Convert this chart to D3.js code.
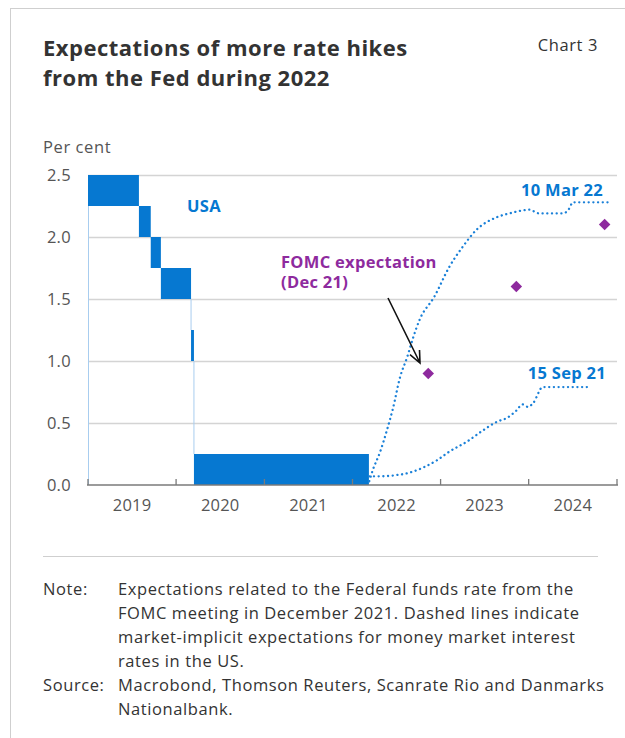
<!DOCTYPE html>
<html>
<head>
<meta charset="utf-8">
<script src="https://cdn.jsdelivr.net/npm/d3@7/dist/d3.min.js"></script>
<style>
  html, body { margin: 0; padding: 0; background: #fff; }
  svg { display: block; font-family: "Open Sans", "Noto Sans", sans-serif; }
</style>
</head>
<body>
<svg id="chart" width="625" height="738"></svg>
<script>
// Federal funds target range (step data): start date of each range
const rateStarts = ["2019-01-01", "2019-07-31", "2019-09-18", "2019-10-30", "2020-03-03", "2020-03-15"];
const rateLower  = [2.25, 2.00, 1.75, 1.50, 1.00, 0.00];
const rateUpper  = [2.50, 2.25, 2.00, 1.75, 1.25, 0.25];
const rateEnd = "2022-03-10";

// Market-implied expectations, 10 Mar 22 (decimal years, per cent)
const mar22Years  = [2022.19, 2022.23, 2022.31, 2022.39, 2022.46, 2022.54, 2022.62, 2022.68, 2022.76,
                     2022.93, 2023.10, 2023.25, 2023.41, 2023.64, 2023.78, 2024.01, 2024.12, 2024.39,
                     2024.46, 2024.50, 2024.94];
const mar22Values = [0.03, 0.12, 0.26, 0.44, 0.62, 0.87, 1.03, 1.17, 1.33,
                     1.52, 1.76, 1.92, 2.06, 2.16, 2.19, 2.22, 2.19, 2.19,
                     2.23, 2.28, 2.28];

// Market-implied expectations, 15 Sep 21
const sep21Years  = [2022.19, 2022.31, 2022.50, 2022.65, 2022.80, 2022.96, 2023.10, 2023.30, 2023.48,
                     2023.64, 2023.75, 2023.86, 2023.93, 2023.99, 2024.05, 2024.16, 2024.69];
const sep21Values = [0.07, 0.07, 0.08, 0.10, 0.14, 0.20, 0.27, 0.35, 0.44,
                     0.51, 0.54, 0.60, 0.65, 0.63, 0.66, 0.79, 0.79];

// FOMC median projections (Dec 21), year-end
const fomcYears  = [2022.86, 2023.86, 2024.86];
const fomcValues = [0.9, 1.6, 2.1];

const yTicks = [0, 0.5, 1.0, 1.5, 2.0, 2.5];
const xYears = [2019, 2020, 2021, 2022, 2023, 2024];

const noteLines = [
  "Expectations related to the Federal funds rate from the",
  "FOMC meeting in December 2021. Dashed lines indicate",
  "market-implicit expectations for money market interest",
  "rates in the US."
];
const sourceLines = [
  "Macrobond, Thomson Reuters, Scanrate Rio and Danmarks",
  "Nationalbank."
];

const BLUE = "#0678d1";
const DOT_BLUE = "#1a80d8";
const PURPLE = "#8e2a9e";
const GRID = "#d4d4d4";
const TEXT = "#333333";
const LABEL = "#555555";
const FS = 16.5;      // body text size
const LS = 0.6;       // body letter spacing

const parse = d3.utcParse("%Y-%m-%d");
function yearToDate(y) {
  const yr = Math.floor(y);
  const start = Date.UTC(yr, 0, 1), end = Date.UTC(yr + 1, 0, 1);
  return new Date(start + (y - yr) * (end - start));
}

const svg = d3.select("#chart");

// card frame
svg.append("rect")
  .attr("x", 10.5).attr("y", 8.5)
  .attr("width", 700).attr("height", 800)
  .attr("fill", "none").attr("stroke", "#cfcfcf").attr("stroke-width", 1);

// title block
const title = svg.append("text")
  .attr("x", 43).attr("y", 56)
  .attr("font-size", 22).attr("font-weight", 700)
  .attr("letter-spacing", 0.5).attr("fill", TEXT);
title.append("tspan").attr("x", 43).text("Expectations of more rate hikes");
title.append("tspan").attr("x", 43).attr("dy", 30).text("from the Fed during 2022");

svg.append("text")
  .attr("x", 598).attr("y", 51).attr("text-anchor", "end")
  .attr("font-size", FS).attr("letter-spacing", LS).attr("fill", TEXT).text("Chart 3");

svg.append("text")
  .attr("x", 43).attr("y", 153)
  .attr("font-size", FS).attr("letter-spacing", LS).attr("fill", LABEL).text("Per cent");

// scales
const x = d3.scaleUtc()
  .domain([parse("2019-01-01"), parse("2025-01-01")])
  .range([88, 617]);
const y = d3.scaleLinear().domain([0, 2.5]).range([485, 175]);

// gridlines
svg.append("g").selectAll("line")
  .data(yTicks.filter(t => t > 0))
  .join("line")
  .attr("x1", 88).attr("x2", 617)
  .attr("y1", d => Math.round(y(d)) + 0.5).attr("y2", d => Math.round(y(d)) + 0.5)
  .attr("stroke", GRID).attr("stroke-width", 1.3);

// y tick labels
svg.append("g").selectAll("text")
  .data(yTicks)
  .join("text")
  .attr("x", 71).attr("y", d => y(d))
  .attr("dy", "0.36em").attr("text-anchor", "end")
  .attr("font-size", FS).attr("letter-spacing", 0.3).attr("fill", LABEL)
  .text(d => d.toFixed(1));

// policy rate target range
const segs = rateStarts.map((s, i) => ({
  start: parse(s),
  end: parse(i < rateStarts.length - 1 ? rateStarts[i + 1] : rateEnd),
  lo: rateLower[i], hi: rateUpper[i]
}));

const edge = svg.append("g")
  .attr("stroke", "#a8cdef").attr("stroke-width", 1).attr("fill", "none");
edge.append("line")
  .attr("x1", x(segs[0].start) + 0.5).attr("x2", x(segs[0].start) + 0.5)
  .attr("y1", y(segs[0].lo)).attr("y2", y(0));
segs.slice(1).forEach((s, i) => {
  const prev = segs[i];
  if (prev.lo > s.hi) {
    edge.append("line")
      .attr("x1", x(s.start)).attr("x2", x(s.start))
      .attr("y1", y(prev.lo)).attr("y2", y(s.hi));
  }
});

svg.append("g").selectAll("rect")
  .data(segs)
  .join("rect")
  .attr("x", d => x(d.start))
  .attr("width", d => Math.max(1.5, x(d.end) - x(d.start)))
  .attr("y", d => y(d.hi))
  .attr("height", d => y(d.lo) - y(d.hi))
  .attr("fill", BLUE);

// expectation curves (dotted)
const line = d3.line()
  .x(d => x(yearToDate(d[0])))
  .y(d => y(d[1]))
  .curve(d3.curveMonotoneX);

function dotted(years, values) {
  svg.append("path")
    .datum(years.map((yr, i) => [yr, values[i]]))
    .attr("d", line)
    .attr("fill", "none")
    .attr("stroke", DOT_BLUE)
    .attr("stroke-width", 2.3)
    .attr("stroke-linecap", "round")
    .attr("stroke-dasharray", "0.1 4.6");
}
dotted(sep21Years, sep21Values);
dotted(mar22Years, mar22Values);

// x axis
const axisG = svg.append("g").attr("transform", "translate(0,485)");
axisG.append("line")
  .attr("x1", 87).attr("x2", 618)
  .attr("stroke", "#7a7a7a").attr("stroke-width", 1.6);
const tickDates = xYears.concat([2025]).map(yr => new Date(Date.UTC(yr, 0, 1)));
axisG.selectAll("line.tick")
  .data(tickDates)
  .join("line").attr("class", "tick")
  .attr("x1", d => x(d)).attr("x2", d => x(d))
  .attr("y1", 0).attr("y2", -6)
  .attr("stroke", "#7a7a7a").attr("stroke-width", 1.3);
axisG.selectAll("text")
  .data(xYears)
  .join("text")
  .attr("x", d => (x(new Date(Date.UTC(d, 0, 1))) + x(new Date(Date.UTC(d + 1, 0, 1)))) / 2)
  .attr("y", 26).attr("text-anchor", "middle")
  .attr("font-size", FS).attr("letter-spacing", 0.2).attr("fill", LABEL)
  .text(d => d);

// FOMC diamonds
svg.append("g").selectAll("path")
  .data(fomcYears.map((yr, i) => [yr, fomcValues[i]]))
  .join("path")
  .attr("transform", d => `translate(${x(yearToDate(d[0]))},${y(d[1])}) rotate(45)`)
  .attr("d", d3.symbol(d3.symbolSquare, 66))
  .attr("fill", PURPLE);

// series labels
const bold = sel => sel.attr("font-size", 16.5).attr("font-weight", 700).attr("letter-spacing", 0.3);
bold(svg.append("text").attr("x", 187).attr("y", 212).attr("fill", BLUE)).text("USA");
bold(svg.append("text").attr("x", 603).attr("y", 196).attr("text-anchor", "end").attr("fill", BLUE)).text("10 Mar 22");
bold(svg.append("text").attr("x", 606).attr("y", 379).attr("text-anchor", "end").attr("fill", BLUE)).text("15 Sep 21");

const fomcLabel = bold(svg.append("text").attr("x", 281).attr("y", 268).attr("fill", PURPLE));
fomcLabel.append("tspan").attr("x", 281).text("FOMC expectation");
fomcLabel.append("tspan").attr("x", 281).attr("dy", 20).text("(Dec 21)");

// annotation arrow
const ax0 = 388, ay0 = 298, ax1 = 420, ay1 = 363;
const ang = Math.atan2(ay1 - ay0, ax1 - ax0);
const headLen = 13, spread = 0.42;
svg.append("path")
  .attr("d", `M${ax0},${ay0}L${ax1},${ay1}` +
    `M${ax1 - headLen * Math.cos(ang - spread)},${ay1 - headLen * Math.sin(ang - spread)}L${ax1},${ay1}` +
    `L${ax1 - headLen * Math.cos(ang + spread)},${ay1 - headLen * Math.sin(ang + spread)}`)
  .attr("fill", "none").attr("stroke", "#111").attr("stroke-width", 1.6);

// divider
svg.append("line")
  .attr("x1", 43).attr("x2", 598).attr("y1", 556.5).attr("y2", 556.5)
  .attr("stroke", "#cfcfcf").attr("stroke-width", 1.2);

// notes
const notes = svg.append("g").attr("font-size", FS).attr("letter-spacing", LS).attr("fill", TEXT);
notes.append("text").attr("x", 43).attr("y", 595).text("Note:");
noteLines.forEach((t, i) => notes.append("text").attr("x", 118).attr("y", 595 + i * 24).text(t));
notes.append("text").attr("x", 43).attr("y", 691).text("Source:");
sourceLines.forEach((t, i) => notes.append("text").attr("x", 118).attr("y", 691 + i * 24).text(t));
</script>
</body>
</html>
